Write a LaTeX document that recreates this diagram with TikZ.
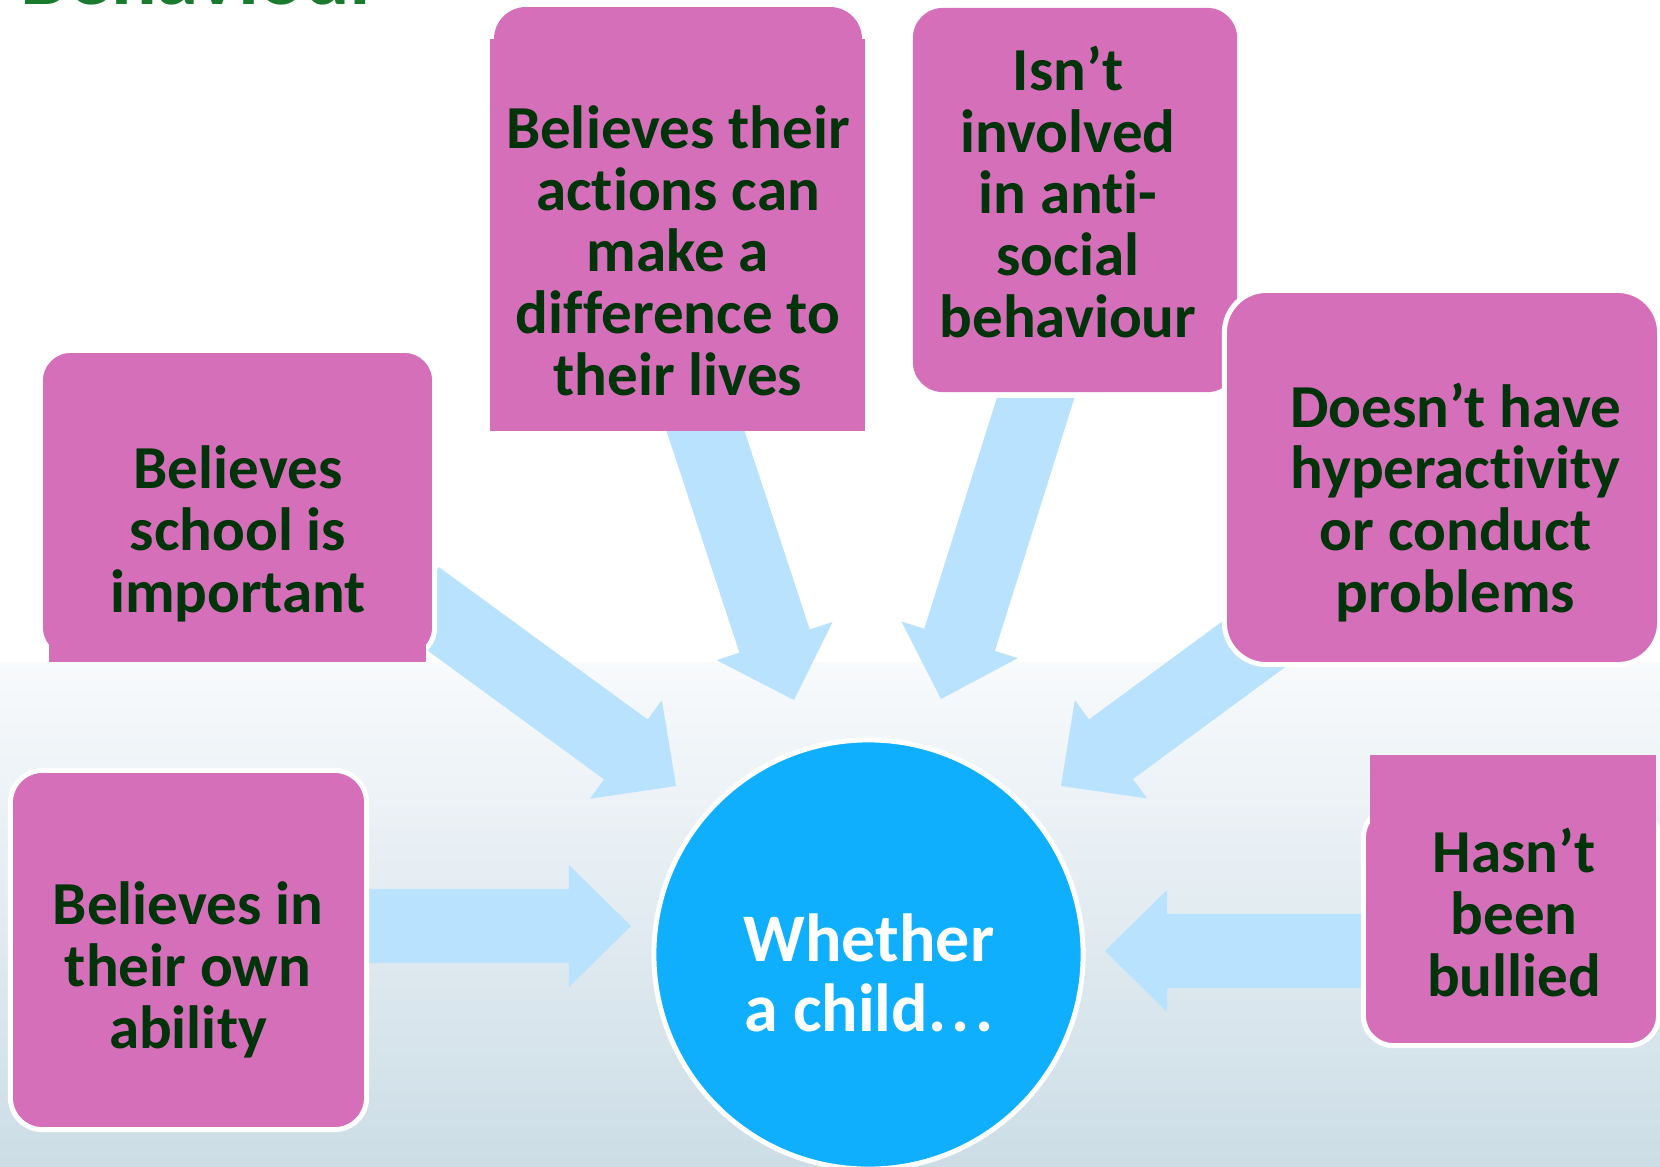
\documentclass[tikz,border=0pt]{standalone}
\usepackage{fontspec}
\setmainfont{Carlito}[Ligatures=NoCommon]
\usetikzlibrary{calc}
\definecolor{pinkbox}{HTML}{D66FBA}
\definecolor{txtgreen}{HTML}{00330A}
\definecolor{arrowblue}{HTML}{B9E2FE}
\definecolor{circblue}{HTML}{0FAFFE}
\definecolor{titlegreen}{HTML}{1A7A2E}
\definecolor{bgtop}{HTML}{F8FAFC}
\definecolor{bgbot}{HTML}{CCDDE6}
\newcommand{\blockarr}[2]{%
  \coordinate (abase) at ($(#2)!0.62cm!(#1)$);
  \fill[arrowblue] ($(#1)!0.37cm!90:(#2)$) -- ($(abase)!0.37cm!90:(#2)$) -- ($(abase)!0.61cm!90:(#2)$) -- (#2) -- ($(abase)!0.61cm!-90:(#2)$) -- ($(abase)!0.37cm!-90:(#2)$) -- ($(#1)!0.37cm!-90:(#2)$) -- cycle;}
\tikzset{
  pinkshape/.style={fill=pinkbox, inner sep=0pt, outer sep=0pt, draw=none},
  bordered/.style={pinkshape, draw=white, line width=0.05cm},
  boxtext/.style={text=txtgreen, font=\bfseries\fontsize{17.36pt}{17.5pt}\selectfont, align=center, inner sep=0pt, anchor=base},
  circtext/.style={text=white, font=\bfseries\fontsize{19.35pt}{19.63pt}\selectfont, align=center, inner sep=0pt, anchor=base}
}
\begin{document}
\begin{tikzpicture}[x=0.01cm, y=-0.01cm]
\useasboundingbox (0,0) rectangle (1660,1166);
\clip (0,0) rectangle (1660,1166);
% background
\fill[white] (0,0) rectangle (1660,662);
\shade[top color=bgtop, bottom color=bgbot] (0,662) rectangle (1660,1166);
% title (cut off at top)
\node[text=titlegreen, font=\bfseries\fontsize{24.2pt}{26pt}\selectfont, anchor=base west, inner sep=0pt] (title) at (20,4) {Behaviour};
% arrow end points
\coordinate (aT) at (355,926);  \coordinate (aH) at (631,926);
\coordinate (bT) at (1375,951); \coordinate (bH) at (1105,951);
\coordinate (cT) at (417,597);  \coordinate (cH) at (676,786);
\coordinate (dT) at (694,396);  \coordinate (dH) at (794,700);
\coordinate (eT) at (1040,384); \coordinate (eH) at (941,699);
\coordinate (fT) at (1303,608); \coordinate (fH) at (1061,786);
% arrows
\blockarr{aT}{aH}
\blockarr{bT}{bH}
\blockarr{cT}{cH}
\blockarr{dT}{dH}
\begin{scope}
  \clip (0,398) rectangle (1660,1166);
  \blockarr{eT}{eH}
\end{scope}
\blockarr{fT}{fH}
% boxes
\node[pinkshape, minimum width=3.75cm, minimum height=3.92cm] (actions) at (677.5,235) {};
\fill[pinkbox, rounded corners=0.32cm] (494,7) rectangle (862,120);
\node[pinkshape, rounded corners=0.3cm, minimum width=3.24cm, minimum height=3.84cm] (isnt) at (1075,200) {};
\node[bordered, rounded corners=0.42cm, minimum width=4.35cm, minimum height=3.74cm] (doesnt) at (1442,477.5) {};
\node[bordered, rounded corners=0.3cm, minimum width=3.94cm, minimum height=3.07cm] (school) at (237.5,504) {};
\fill[pinkbox] (49,620) rectangle (426,662);
\node[bordered, rounded corners=0.32cm, minimum width=3.56cm, minimum height=3.59cm] (ability) at (188.5,950) {};
\node[bordered, rounded corners=0.3cm, minimum width=2.95cm, minimum height=2.38cm] (hasnt) at (1511,926.5) {};
\fill[pinkbox] (1370,755) rectangle (1656,850);
% circle
\node[circle, fill=circblue, draw=white, line width=0.05cm, minimum size=4.29cm, inner sep=0pt] (child) at (868.5,954.5) {};
% texts (anchor = baseline of the last line)
\node[boxtext] (actionstext) at (678,395) {Believes their\\actions can\\make a\\difference to\\their lives};
\node[boxtext] (isnttext) at (1068,337) {Isn’t\\involved\\in anti-\\social\\behaviour};
\node[boxtext] (schooltext) at (238,612) {Believes\\school is\\important};
\node[boxtext] (doesnttext) at (1455.5,612) {Doesn’t have\\hyperactivity\\or conduct\\problems};
\node[boxtext] (hasnttext) at (1514,996) {Hasn’t\\been\\bullied};
\node[boxtext] (abilitytext) at (188,1048) {Believes in\\their own\\ability};
\node[circtext] (childtext) at (869,1031) {Whether\\a child.\kern1.6pt.\kern1.6pt.};
\end{tikzpicture}
\end{document}
